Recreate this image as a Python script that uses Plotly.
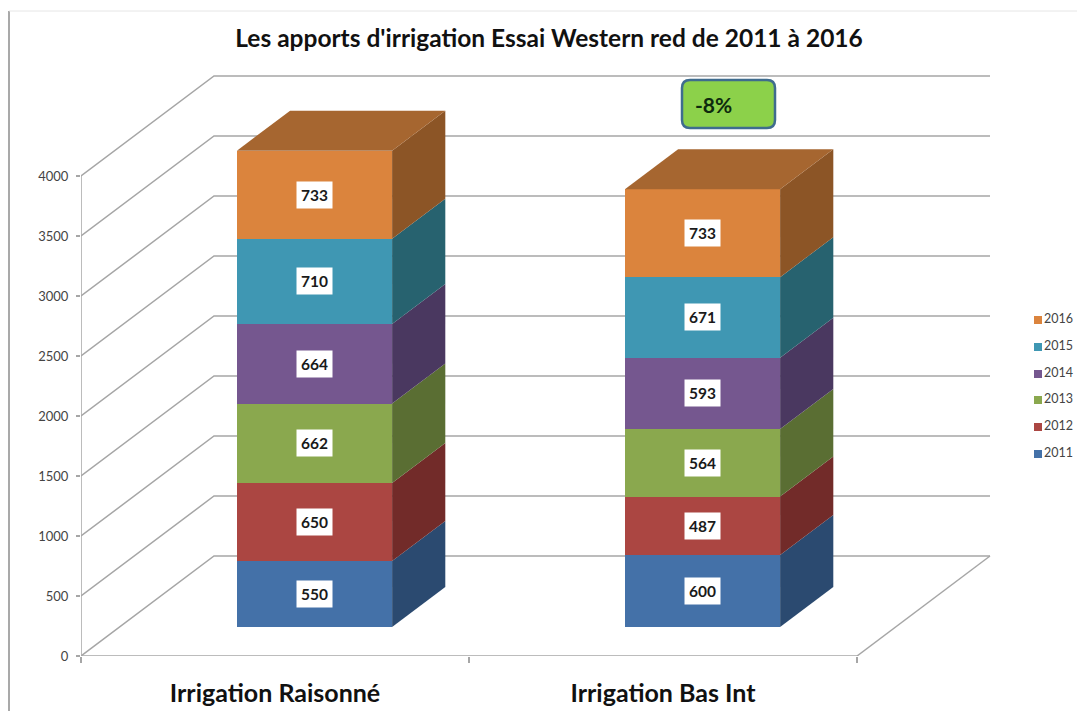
import plotly.graph_objects as go

categories = ["Irrigation Raisonné", "Irrigation Bas Int"]
years = ["2011", "2012", "2013", "2014", "2015", "2016"]
values_2011 = [550, 600]
values_2012 = [650, 487]
values_2013 = [662, 564]
values_2014 = [664, 593]
values_2015 = [710, 671]
values_2016 = [733, 733]
series = [values_2011, values_2012, values_2013, values_2014, values_2015, values_2016]
y_ticks = [0, 500, 1000, 1500, 2000, 2500, 3000, 3500, 4000]

front = ["#4471A8", "#AB4642", "#8AA84E", "#75578F", "#3F97B3", "#DB843D"]
side = ["#2B4A70", "#722B29", "#5A6E33", "#4A3860", "#27626F", "#8C5526"]
top_color = "#A66630"
grid = "#A6A6A6"

W, H = 1077, 711
L, R, T, B = 81, 1077, 75, 656
PX_X = 388.0      # pixels per category
PX_Y = 0.12       # pixels per unit
DX = 133 / PX_X   # full depth of the floor, in axis units
DY = 100 / PX_Y
D0, D1 = 0.29, 0.69  # bar depth span inside the floor
BAR_SHIFT = 0.297 * DX  # horizontal offset of the bars from the category centre
BAR_W = 0.40


def px(x):
    return (x - L) / (R - L)


def py(y):
    return (B - y) / (B - T)


fig = go.Figure()

centres = [i + 0.5 + BAR_SHIFT for i in range(len(categories))]
base_y = D0 * DY
bd = D1 - D0

# walls, floor and axis lines
shapes = []
line = dict(color=grid, width=1.5)
for t in y_ticks:
    shapes.append(dict(type="path", layer="below", xref="x", yref="y", line=line,
                       path=f"M 0 {t} L {DX} {t + DY} L {DX + 2} {t + DY}"))
shapes.append(dict(type="line", layer="below", xref="x", yref="y", line=line, x0=0, x1=0, y0=0, y1=y_ticks[-1]))
shapes.append(dict(type="line", layer="below", xref="x", yref="y", line=line, x0=0, x1=2, y0=0, y1=0))
shapes.append(dict(type="line", layer="below", xref="x", yref="y", line=line, x0=2, x1=2 + DX, y0=0, y1=DY))

annotations = []
stack = [base_y] * len(categories)
for k, vals in enumerate(series):
    bases = list(stack)
    fig.add_trace(go.Bar(x=centres, y=vals, base=bases, width=BAR_W, name=years[k],
                         marker=dict(color=front[k], line=dict(width=0)),
                         showlegend=False, hoverinfo="skip"))
    for c, b, v in zip(centres, bases, vals):
        xr = c + BAR_W / 2
        fig.add_trace(go.Scatter(
            x=[xr, xr + bd * DX, xr + bd * DX, xr, xr],
            y=[b, b + bd * DY, b + v + bd * DY, b + v, b],
            mode="lines", fill="toself", fillcolor=side[k], line=dict(width=0),
            showlegend=False, hoverinfo="skip"))
        annotations.append(dict(x=c, y=b + v / 2, xref="x", yref="y", text=f"<b>{v}</b>", showarrow=False,
                                bgcolor="white", borderpad=4,
                                font=dict(family="Lato", size=15.5, color="#1A1A1A")))
    stack = [s + v for s, v in zip(stack, vals)]

for c, s in zip(centres, stack):
    xl, xr = c - BAR_W / 2, c + BAR_W / 2
    fig.add_trace(go.Scatter(
        x=[xl, xr, xr + bd * DX, xl + bd * DX, xl],
        y=[s, s, s + bd * DY, s + bd * DY, s],
        mode="lines", fill="toself", fillcolor=top_color, line=dict(width=0),
        showlegend=False, hoverinfo="skip"))

# legend column, placed right of the floor
legend_rows = [454, 427, 400, 374, 347, 320]
for k, yr in enumerate(years):
    fig.add_trace(go.Scatter(
        x=[(1038 - L) / PX_X], y=[(B - legend_rows[k]) / PX_Y], mode="markers+text", name=yr, text=[yr],
        textposition="middle right", showlegend=False, hoverinfo="skip", cliponaxis=False,
        marker=dict(symbol="square", size=8, color=front[k]),
        textfont=dict(family="Lato", size=12.5, color="#444444")))


# callout "-8%"
def rr(x0, y0, x1, y1, r):
    a, b = px, py
    return (f"M {a(x0 + r)} {b(y0)} L {a(x1 - r)} {b(y0)} Q {a(x1)} {b(y0)} {a(x1)} {b(y0 + r)} "
            f"L {a(x1)} {b(y1 - r)} Q {a(x1)} {b(y1)} {a(x1 - r)} {b(y1)} "
            f"L {a(x0 + r)} {b(y1)} Q {a(x0)} {b(y1)} {a(x0)} {b(y1 - r)} "
            f"L {a(x0)} {b(y0 + r)} Q {a(x0)} {b(y0)} {a(x0 + r)} {b(y0)} Z")


shapes.append(dict(type="path", layer="above", xref="paper", yref="paper", path=rr(682, 80, 775, 128, 8),
                   fillcolor="#8CD14A", line=dict(color="#3F6C8E", width=2.5)))
annotations.append(dict(x=px(713), y=py(104), xref="paper", yref="paper", xanchor="center", yanchor="middle",
                        text="<b>-8%</b>", showarrow=False,
                        font=dict(family="Lato", size=21, color="#0E2A0E")))

# page frame of the picture
shapes.append(dict(type="line", xref="paper", yref="paper", x0=px(9), x1=px(9), y0=py(11), y1=py(711),
                   line=dict(color="#8C8C8C", width=1.5), layer="below"))
shapes.append(dict(type="line", xref="paper", yref="paper", x0=px(9), x1=px(1077), y0=py(11), y1=py(11),
                   line=dict(color="#E6E6E6", width=1), layer="below"))

fig.update_layout(
    width=W, height=H, autosize=False,
    margin=dict(l=L, r=W - R, t=T, b=H - B, pad=0),
    paper_bgcolor="white", plot_bgcolor="white",
    barmode="overlay", bargap=0, showlegend=False,
    shapes=shapes, annotations=annotations,
    title=dict(text="<b>Les apports d'irrigation Essai Western red de 2011 à 2016</b>", automargin=False,
               x=549 / W, xanchor="center", y=1 - 38 / H, yanchor="middle",
               font=dict(family="Lato", size=24.5, color="#111111")),
    xaxis=dict(range=[0, (R - L) / PX_X], tickmode="array", tickvals=[0.5, 1.5], ticktext=[f"<b>{c}</b>" for c in categories],
               ticks="outside", ticklen=15, tickcolor="rgba(0,0,0,0)", showgrid=False, zeroline=False, showline=False,
               automargin=False,
               tickfont=dict(family="Lato", size=25, color="#111111"),
               minor=dict(tickmode="array", tickvals=[0, 1, 2], ticks="outside", ticklen=6, tickwidth=1.5, tickcolor=grid, showgrid=False)),
    yaxis=dict(range=[0, (B - T) / PX_Y], tickmode="array", tickvals=y_ticks, ticktext=[str(t) for t in y_ticks],
               ticks="outside", ticklen=4, tickwidth=1.5, tickcolor=grid, showgrid=False, zeroline=False, showline=False,
               ticklabelstandoff=5, automargin=False,
               tickfont=dict(family="Lato", size=13, color="#444444")),
)

fig.write_html("out.html", config={"displayModeBar": False},
               post_script="document.body.style.margin='0';document.documentElement.style.overflow='hidden';")
